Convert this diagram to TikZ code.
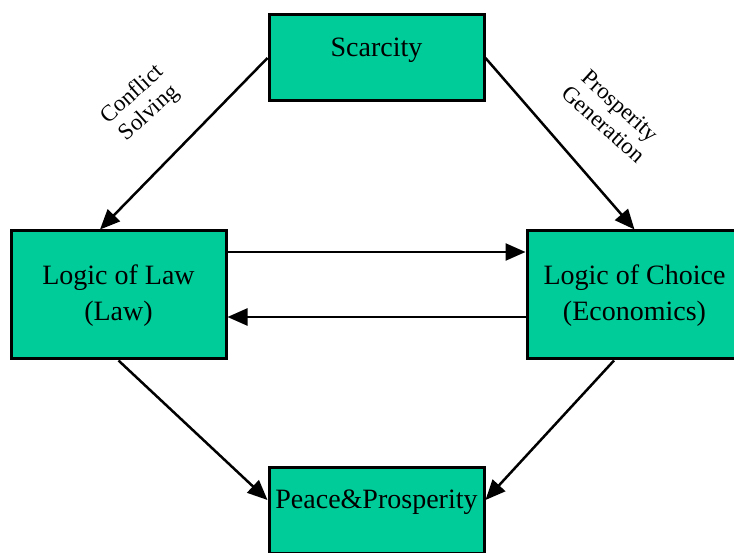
\documentclass[tikz,border=0pt]{standalone}
\usepackage{fontspec}
\setmainfont{Liberation Serif}
\usetikzlibrary{arrows.meta}
\definecolor{boxgreen}{HTML}{00CC99}
\tikzset{
  boxnode/.style={draw=black, fill=boxgreen, line width=3pt, minimum width=215pt, inner sep=0pt},
  boxtext/.style={font=\fontsize{28}{36}\selectfont, align=center, inner sep=0pt},
  labeltext/.style={font=\fontsize{23}{25}\selectfont, align=center, inner sep=0pt},
  conn/.style={line width=2.5pt, -{Triangle[length=20pt,width=17pt]}}
}
\begin{document}
\begin{tikzpicture}[x=1pt,y=-1pt]
\useasboundingbox (0,0) rectangle (734,553);
\node[boxnode, minimum height=86pt] (scar) at (376.5,58) {};
\node[boxnode, minimum height=128pt] (law) at (118.5,295) {};
\node[boxnode, minimum height=128pt] (choice) at (634.5,295) {};
\node[boxnode, minimum height=86pt] (peace) at (376.5,510) {};
\node[boxtext] (scart) at (376.5,50) {Scarcity};
\node[boxtext] (lawt) at (118.5,296) {Logic of Law\\(Law)};
\node[boxtext] (choicet) at (634.5,296) {Logic of Choice\\(Economics)};
\node[boxtext] (peacet) at (376.5,502) {Peace\&Prosperity};
\node[labeltext, rotate=42] (cs) at (141,104) {Conflict\\Solving};
\node[labeltext, rotate=-42] (pg) at (612,115) {Prosperity\\Generation};
\draw[conn] (scar.west) -- ([xshift=-18.5pt]law.north);
\draw[conn] (scar.east) -- (choice.north);
\draw[conn] ([yshift=43pt]law.east) -- ([yshift=43pt]choice.west);
\draw[conn] ([yshift=-22pt]choice.west) -- ([yshift=-22pt]law.east);
\draw[conn] (law.south) -- ([yshift=10pt]peace.west);
\draw[conn] ([xshift=-20.5pt]choice.south) -- ([yshift=10pt]peace.east);
\end{tikzpicture}
\end{document}
